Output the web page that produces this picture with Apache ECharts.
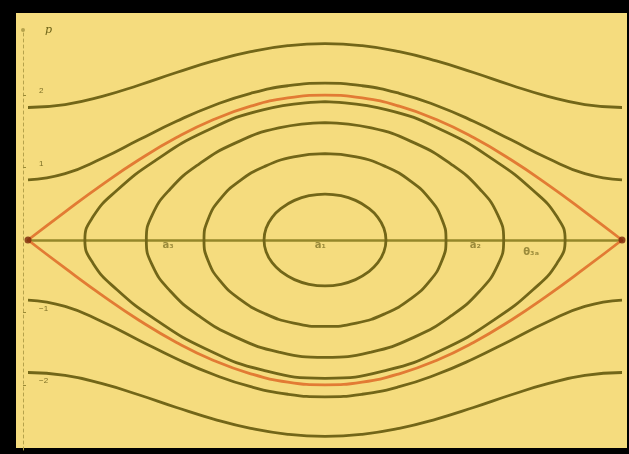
<!DOCTYPE html>
<html>
<head>
<meta charset="utf-8">
<script src="https://cdn.jsdelivr.net/npm/echarts@6/dist/echarts.min.js"></script>
<style>
  html, body { margin: 0; padding: 0; background: #000; }
  #chart { width: 629px; height: 454px; }
</style>
</head>
<body>
<div id="chart"></div>
<script>
// Phase plane of the pendulum: angle θ (horizontal) against momentum p (vertical).

// θ positions sampled for the open (rotating) trajectories and the separatrix
const thetaGrid = [-3.1416, -2.7489, -2.3562, -1.9635, -1.5708, -1.1781, -0.7854, -0.3927, 0,
                   0.3927, 0.7854, 1.1781, 1.5708, 1.9635, 2.3562, 2.7489, 3.1416];

// rotating trajectories, upper and lower branches
const outerRotUpper = [1.830, 1.871, 1.984, 2.141, 2.313, 2.473, 2.601, 2.683, 2.711,
                       2.683, 2.601, 2.473, 2.313, 2.141, 1.984, 1.871, 1.830];
const outerRotLower = [-1.830, -1.871, -1.984, -2.141, -2.313, -2.473, -2.601, -2.683, -2.711,
                       -2.683, -2.601, -2.473, -2.313, -2.141, -1.984, -1.871, -1.830];
const innerRotUpper = [0.830, 0.917, 1.129, 1.387, 1.640, 1.858, 2.026, 2.130, 2.165,
                       2.130, 2.026, 1.858, 1.640, 1.387, 1.129, 0.917, 0.830];
const innerRotLower = [-0.830, -0.917, -1.129, -1.387, -1.640, -1.858, -2.026, -2.130, -2.165,
                       -2.130, -2.026, -1.858, -1.640, -1.387, -1.129, -0.917, -0.830];

// separatrix through the two saddle points
const separatrixUpper = [0, 0.390, 0.765, 1.111, 1.414, 1.663, 1.848, 1.962, 2.000,
                         1.962, 1.848, 1.663, 1.414, 1.111, 0.765, 0.390, 0];
const separatrixLower = [0, -0.390, -0.765, -1.111, -1.414, -1.663, -1.848, -1.962, -2.000,
                         -1.962, -1.848, -1.663, -1.414, -1.111, -0.765, -0.390, 0];

// closed oscillation orbits, each traced once around as [θ, p] points (starting at the top)
const orbit1 = [[0, 0.634], [0.167, 0.612], [0.323, 0.547], [0.456, 0.444], [0.559, 0.313], [0.623, 0.161], [0.645, 0],
  [0.623, -0.161], [0.559, -0.313], [0.456, -0.444], [0.323, -0.547], [0.167, -0.612], [0, -0.634],
  [-0.167, -0.612], [-0.323, -0.547], [-0.456, -0.444], [-0.559, -0.313], [-0.623, -0.161], [-0.645, 0],
  [-0.623, 0.161], [-0.559, 0.313], [-0.456, 0.444], [-0.323, 0.547], [-0.167, 0.612], [0, 0.634]];
const orbit2 = [[0, 1.194], [0.331, 1.148], [0.640, 1.015], [0.905, 0.814], [1.109, 0.565], [1.236, 0.288], [1.280, 0],
  [1.236, -0.288], [1.109, -0.565], [0.905, -0.814], [0.640, -1.015], [0.331, -1.148], [0, -1.194],
  [-0.331, -1.148], [-0.640, -1.015], [-0.905, -0.814], [-1.109, -0.565], [-1.236, -0.288], [-1.280, 0],
  [-1.236, 0.288], [-1.109, 0.565], [-0.905, 0.814], [-0.640, 1.015], [-0.331, 1.148], [0, 1.194]];
const orbit3 = [[0, 1.621], [0.489, 1.547], [0.945, 1.341], [1.336, 1.045], [1.637, 0.704], [1.826, 0.351], [1.890, 0],
  [1.826, -0.351], [1.637, -0.704], [1.336, -1.045], [0.945, -1.341], [0.489, -1.547], [0, -1.621],
  [-0.489, -1.547], [-0.945, -1.341], [-1.336, -1.045], [-1.637, -0.704], [-1.826, -0.351], [-1.890, 0],
  [-1.826, 0.351], [-1.637, 0.704], [-1.336, 1.045], [-0.945, 1.341], [-0.489, 1.547], [0, 1.621]];
const orbit4 = [[0, 1.910], [0.657, 1.798], [1.270, 1.497], [1.796, 1.096], [2.200, 0.687], [2.453, 0.323], [2.540, 0],
  [2.453, -0.323], [2.200, -0.687], [1.796, -1.096], [1.270, -1.497], [0.657, -1.798], [0, -1.910],
  [-0.657, -1.798], [-1.270, -1.497], [-1.796, -1.096], [-2.200, -0.687], [-2.453, -0.323], [-2.540, 0],
  [-2.453, 0.323], [-2.200, 0.687], [-1.796, 1.096], [-1.270, 1.497], [-0.657, 1.798], [0, 1.910]];

// saddle (unstable equilibrium) points
const saddleTheta = [-3.1416, 3.1416];
const saddleP = [0, 0];

// annotations along the θ axis
const markText = ['a₃', 'a₁', 'a₂', 'θ₃ₐ'];
const markTheta = [-1.66, -0.05, 1.59, 2.18];
const markP = [-0.07, -0.07, -0.07, -0.17];

// momentum axis ticks
const pTickValues = [-2, -1, 1, 2];
const pTickLabels = ['−2', '−1', '1', '2'];

const OLIVE = '#726618';
const SEPARATRIX = '#e27b34';
const PAPER = '#f5dc7e';

const zip = (xs, ys) => xs.map((x, i) => [x, ys[i]]);

function curve(data, color) {
  return {
    type: 'line',
    data: data,
    smooth: 0.5,
    symbol: 'none',
    silent: true,
    lineStyle: { color: color, width: 2.8 },
    z: 3
  };
}

const chart = echarts.init(document.getElementById('chart'), null, { renderer: 'canvas' });

chart.setOption({
  animation: false,
  backgroundColor: '#000',
  graphic: [{
    type: 'rect',
    z: -10,
    shape: { x: 16, y: 13, width: 611, height: 435 },
    style: { fill: PAPER }
  }],
  grid: { left: 28, right: 7, top: 30, bottom: 4 },
  xAxis: {
    type: 'value',
    min: -Math.PI,
    max: Math.PI,
    axisLine: { onZero: true, lineStyle: { color: '#94862a', width: 2.6 } },
    axisTick: { show: false },
    axisLabel: { show: false },
    splitLine: { show: false }
  },
  yAxis: {
    type: 'value',
    min: -2.9,
    max: 2.9,
    offset: 5,
    name: 'p',
    nameLocation: 'end',
    nameGap: -6,
    nameTextStyle: { fontStyle: 'italic', fontSize: 11, color: '#6e6418', align: 'left', padding: [0, 0, 0, 22], fontFamily: 'DejaVu Serif' },
    axisLine: {
      show: true,
      onZero: false,
      symbol: ['none', 'circle'],
      symbolSize: [4, 4],
      lineStyle: { color: '#b5a24c', width: 1, type: [3, 3] }
    },
    axisTick: { show: true, inside: true, length: 3, customValues: pTickValues, lineStyle: { color: '#9a8a36' } },
    axisLabel: {
      show: true,
      inside: true,
      margin: 16,
      customValues: pTickValues,
      verticalAlign: 'bottom',
      fontSize: 8,
      color: '#7d6f26',
      formatter: v => pTickLabels[pTickValues.indexOf(Math.round(v))] || ''
    },
    splitLine: { show: false }
  },
  series: [
    curve(zip(thetaGrid, outerRotUpper), OLIVE),
    curve(zip(thetaGrid, outerRotLower), OLIVE),
    curve(zip(thetaGrid, innerRotUpper), OLIVE),
    curve(zip(thetaGrid, innerRotLower), OLIVE),
    curve(orbit1, OLIVE),
    curve(orbit2, OLIVE),
    curve(orbit3, OLIVE),
    curve(orbit4, OLIVE),
    curve(zip(thetaGrid, separatrixUpper), SEPARATRIX),
    curve(zip(thetaGrid, separatrixLower), SEPARATRIX),
    {
      type: 'scatter',
      data: zip(saddleTheta, saddleP),
      symbolSize: 7,
      silent: true,
      itemStyle: { color: '#7a2508' },
      z: 5
    },
    {
      type: 'scatter',
      data: markTheta.map((t, i) => [t, markP[i], markText[i]]),
      symbolSize: 0,
      silent: true,
      z: 6,
      label: {
        show: true,
        position: 'inside',
        fontSize: 10,
        fontWeight: 'bold',
        color: '#85772a',
        fontFamily: 'DejaVu Sans',
        formatter: p => p.data[2]
      }
    }
  ]
});
</script>
</body>
</html>
